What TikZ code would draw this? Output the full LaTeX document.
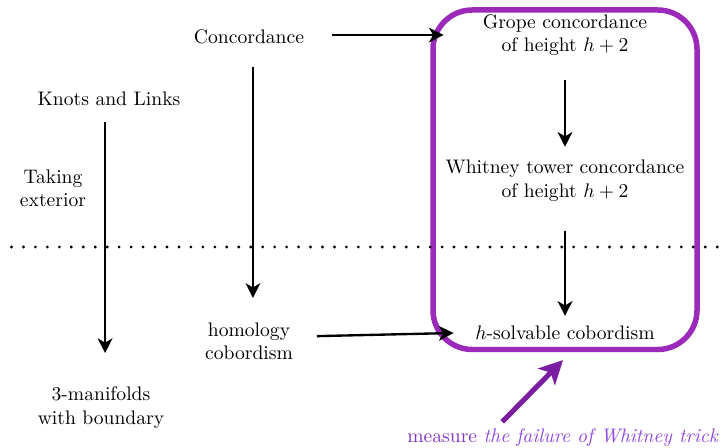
\documentclass[tikz,border=0pt]{standalone}
\usetikzlibrary{arrows.meta}

\definecolor{boxviolet}{RGB}{155,42,186}
\definecolor{arrowviolet}{RGB}{122,30,162}
\definecolor{noteviolet}{RGB}{128,52,196}
\definecolor{noteitalic}{RGB}{140,72,222}

\tikzset{
  label/.style={align=center, inner sep=2pt},
  rightlabel/.style={label, minimum width=242pt*0.51},
  implies/.style={-{Stealth[length=7.5pt, width=7.5pt, inset=2.2pt]}, line width=1.2pt},
  separator/.style={line width=1.6pt, line cap=round, dash pattern=on 0pt off 6.1pt},
  frame/.style={draw=boxviolet, line width=2.8pt, rounded corners=20pt},
  pointer/.style={draw=arrowviolet, line width=2.6pt,
    -{Stealth[length=12pt, width=12pt, inset=3pt]}},
}

\begin{document}
\begin{tikzpicture}[x=0.51pt, y=-0.51pt]
  \useasboundingbox (0,0) rectangle (722,448);

  % the framed group of concordance notions
  \node[frame, minimum width=264*0.51pt, minimum height=339.5*0.51pt] (box) at (565,179.75) {};

  % separator between the two worlds
  \coordinate (dl) at (11.5,247);
  \coordinate (dr) at (722,247);
  \draw[separator] (dl) -- (dr);

  % left column
  \node[label] (knots) at (109,99) {Knots and Links};
  \node[label] (exterior) at (53,188.5) {Taking\\exterior};
  \node[label] (mfd) at (101,407.5) {3-manifolds\\with boundary};

  % middle column
  \node[label] (conc) at (249,37) {Concordance};
  \node[label] (homcob) at (249,341.5) {homology\\cobordism};

  % right column, inside the frame
  \node[rightlabel] (grope) at (565,35) {Grope concordance\\of height $h+2$};
  \node[label] (whitney) at (565,180.5) {Whitney tower concordance\\of height $h+2$};
  \node[label, minimum width=222pt*0.51] (solv) at (565,333) {$h$-solvable cobordism};

  % note below the frame
  \node[label, text=noteviolet] (note) at (563,438) {measure \textcolor{noteitalic}{\textit{the failure of Whitney trick}}};

  % implications
  \draw[implies, shorten <=12pt] ([yshift=1pt]conc.east) -- ([yshift=1pt]grope.west |- conc.east);
  \draw[implies, shorten <=9.5pt, shorten >=10.5pt] ([xshift=2pt]conc.south) -- ([xshift=2pt]conc.south |- homcob.north);
  \draw[implies, shorten <=6pt, shorten >=15pt] ([xshift=-2pt]knots.south) -- ([xshift=-2pt]knots.south |- mfd.north);
  \draw[implies, shorten <=10pt, shorten >=4.5pt] (grope.south) -- (whitney.north);
  \draw[implies, shorten <=13pt, shorten >=3pt] (whitney.south) -- (solv.north);
  \draw[implies, shorten <=10pt] ([yshift=2.5pt]homcob.east) -- (solv.west);

  % pointer from the note to the frame
  \draw[pointer] ([xshift=-31pt, yshift=1.5pt]note.north) -- ([xshift=-1pt, yshift=-4pt]box.south);
\end{tikzpicture}
\end{document}
